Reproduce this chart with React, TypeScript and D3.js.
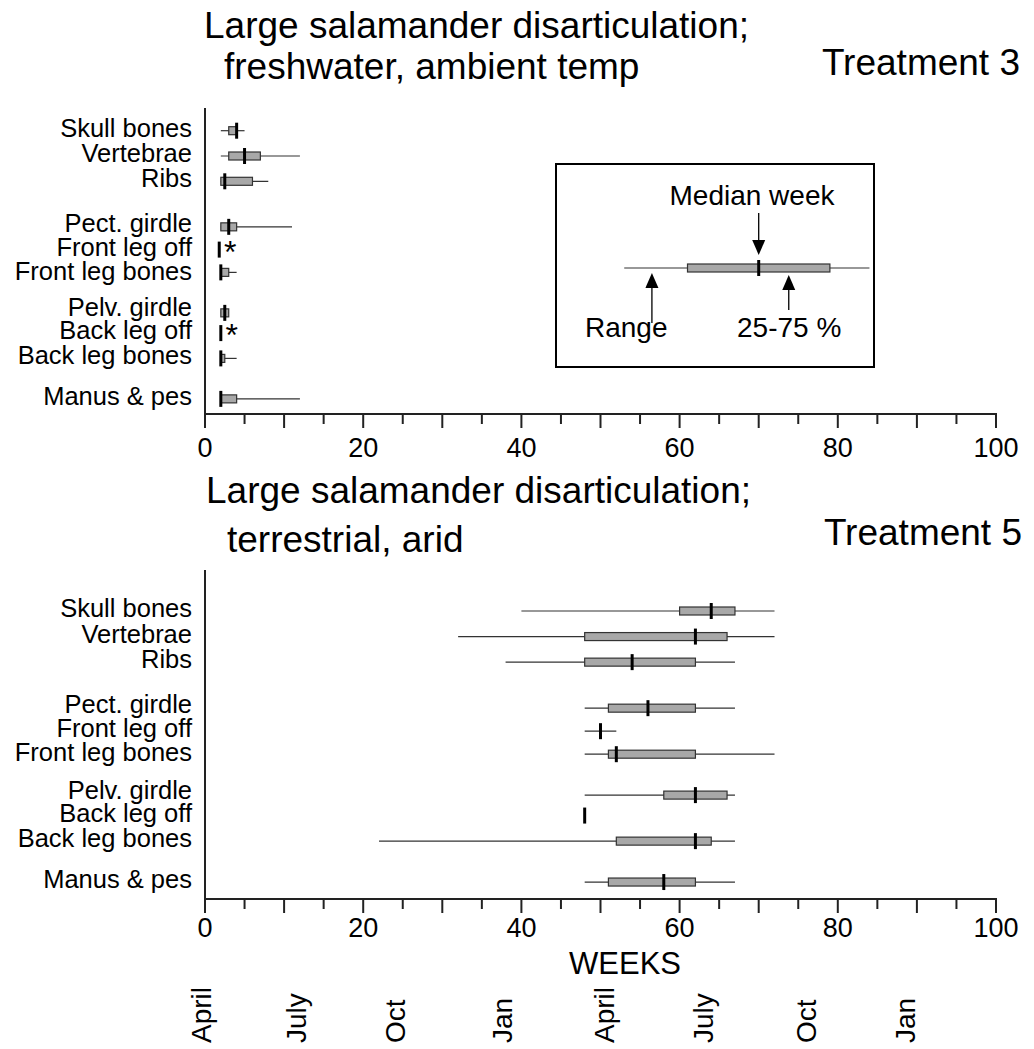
import React from "react";
import * as d3 from "d3";

// Row labels and their vertical slot positions (groups separated by gaps)
const categories = [
  "Skull bones",
  "Vertebrae",
  "Ribs",
  "Pect. girdle",
  "Front leg off",
  "Front leg bones",
  "Pelv. girdle",
  "Back leg off",
  "Back leg bones",
  "Manus & pes",
];
const rowSlots = [0, 1, 2, 3.8, 4.7, 5.6, 7.2, 8, 9, 10.6];
const labelSlots = [0, 1, 2, 3.75, 4.7, 5.65, 7.1, 8, 9, 10.6];

// Treatment 3: freshwater, ambient temperature (weeks)
const t3Min = [2, 2, 2, 2, null, 2, 2, null, 2, 2];
const t3Q1 = [3, 3, 2, 2, null, 2, 2, null, 2, 2];
const t3Median = [4, 5, 2.5, 3, 1.8, 2, 2.5, 2, 2, 2];
const t3Q3 = [4, 7, 6, 4, null, 3, 3, null, 2.5, 4];
const t3Max = [5, 12, 8, 11, null, 4, 3, null, 4, 12];
const t3Starred = [false, false, false, false, true, false, false, true, false, false];

// Treatment 5: terrestrial, arid (weeks)
const t5Min = [40, 32, 38, 48, 48, 48, 48, null, 22, 48];
const t5Q1 = [60, 48, 48, 51, null, 51, 58, null, 52, 51];
const t5Median = [64, 62, 54, 56, 50, 52, 62, 48, 62, 58];
const t5Q3 = [67, 66, 62, 62, null, 62, 66, null, 64, 62];
const t5Max = [72, 72, 67, 67, 52, 72, 67, null, 67, 67];
const t5Starred = [false, false, false, false, false, false, false, false, false, false];

// Week axis
const weekDomain = [0, 100];
const tickLabels = [0, 20, 40, 60, 80, 100];

// Calendar months below the week axis (position in weeks)
const monthNames = ["April", "July", "Oct", "Jan", "April", "July", "Oct", "Jan"];
const monthWeeks = [-0.5, 11.5, 24, 37.5, 50.5, 63, 76, 88.5];

// Legend key (schematic values in weeks)
const legendRange = [53, 84];
const legendBox = [61, 79];
const legendMedian = 70;

const FONT = "'Liberation Sans', Arial, Helvetica, sans-serif";
const BOX_FILL = "#a8a8a8";
const DARK = "#222";

type PanelProps = {
  top: number; // y of first row
  unit: number; // px per slot
  axisTop: number;
  axisY: number;
  labelGap: number;
  mins: (number | null)[];
  q1s: (number | null)[];
  medians: number[];
  q3s: (number | null)[];
  maxs: (number | null)[];
  starred: boolean[];
};

const x = d3.scaleLinear().domain(weekDomain).range([205, 996]);

function Panel(p: PanelProps) {
  const y = d3
    .scaleLinear()
    .domain([0, 10.6])
    .range([p.top, p.top + 10.6 * p.unit]);
  const ticks = x.ticks(20);
  return (
    <g>
      {/* category labels */}
      {categories.map((c, i) => (
        <text
          key={c}
          x={192}
          y={y(labelSlots[i]) - 3}
          textAnchor="end"
          dominantBaseline="central"
          fontSize={25.5}
          fontFamily={FONT}
        >
          {c}
        </text>
      ))}
      {/* boxes */}
      {categories.map((c, i) => {
        const cy = y(rowSlots[i]);
        const mn = p.mins[i];
        const mx = p.maxs[i];
        const a = p.q1s[i];
        const b = p.q3s[i];
        return (
          <g key={c}>
            {mn != null && mx != null && (
              <line x1={x(mn)} x2={x(mx)} y1={cy} y2={cy} stroke="#333" strokeWidth={1.2} />
            )}
            {a != null && b != null && (
              <rect
                x={x(a)}
                y={cy - 4}
                width={Math.max(x(b) - x(a), 0)}
                height={8}
                fill={BOX_FILL}
                stroke="#333"
                strokeWidth={1.2}
              />
            )}
            <line
              x1={x(p.medians[i])}
              x2={x(p.medians[i])}
              y1={cy - 8}
              y2={cy + 8}
              stroke="#000"
              strokeWidth={3}
            />
            {p.starred[i] && (
              <text x={x(p.medians[i]) + 11} y={cy + 13} textAnchor="middle" fontSize={32} fontFamily={FONT}>
                *
              </text>
            )}
          </g>
        );
      })}
      {/* axes */}
      <line x1={x(0)} x2={x(0)} y1={p.axisTop} y2={p.axisY} stroke={DARK} strokeWidth={2} />
      <line x1={x(0) - 1} x2={x(100) + 1} y1={p.axisY} y2={p.axisY} stroke={DARK} strokeWidth={2} />
      {ticks.map((t) => (
        <line
          key={t}
          x1={x(t)}
          x2={x(t)}
          y1={p.axisY}
          y2={p.axisY + (t % 10 === 0 ? 14 : 10)}
          stroke={DARK}
          strokeWidth={2}
        />
      ))}
      {tickLabels.map((t) => (
        <text
          key={t}
          x={x(t)}
          y={p.axisY + p.labelGap}
          textAnchor="middle"
          fontSize={27}
          fontFamily={FONT}
        >
          {t}
        </text>
      ))}
    </g>
  );
}

function Arrow({ xPos, tipY, tailY }: { xPos: number; tipY: number; tailY: number }) {
  const dir = tailY > tipY ? 1 : -1; // 1: pointing up
  const headLen = 15;
  const headHalf = 6.5;
  const baseY = tipY + dir * headLen;
  return (
    <g>
      <line x1={xPos} x2={xPos} y1={baseY} y2={tailY} stroke="#000" strokeWidth={1.3} />
      <path
        d={`M${xPos},${tipY} L${xPos - headHalf},${baseY} L${xPos + headHalf},${baseY} Z`}
        fill="#000"
      />
    </g>
  );
}

function Legend() {
  const cy = 268;
  return (
    <g>
      <rect x={556} y={164} width={318} height={203} fill="none" stroke="#000" strokeWidth={2} />
      <text x={752} y={205} textAnchor="middle" fontSize={28} fontFamily={FONT}>
        Median week
      </text>
      <Arrow xPos={x(legendMedian)} tipY={255} tailY={213} />
      <line x1={x(legendRange[0])} x2={x(legendRange[1])} y1={cy} y2={cy} stroke="#333" strokeWidth={1.2} />
      <rect
        x={x(legendBox[0])}
        y={cy - 4}
        width={x(legendBox[1]) - x(legendBox[0])}
        height={8}
        fill={BOX_FILL}
        stroke="#333"
        strokeWidth={1.2}
      />
      <line x1={x(legendMedian)} x2={x(legendMedian)} y1={cy - 8} y2={cy + 8} stroke="#000" strokeWidth={3} />
      <Arrow xPos={x(56.5)} tipY={273} tailY={323} />
      <Arrow xPos={x(73.8)} tipY={275} tailY={310} />
      <text x={585} y={337} fontSize={28} fontFamily={FONT}>
        Range
      </text>
      <text x={737} y={337} fontSize={28} fontFamily={FONT}>
        25-75 %
      </text>
    </g>
  );
}

export default function App() {
  return (
    <svg
      width={1034}
      height={1049}
      style={{ position: "absolute", left: 0, top: 0, background: "#fff" }}
    >
      <rect width={1034} height={1049} fill="#fff" />
      {/* titles */}
      <text x={204} y={38} fontSize={37} fontFamily={FONT}>
        Large salamander disarticulation;
      </text>
      <text x={224} y={79} fontSize={37} fontFamily={FONT}>
        freshwater, ambient temp
      </text>
      <text x={1020} y={75} textAnchor="end" fontSize={37} fontFamily={FONT}>
        Treatment 3
      </text>
      <text x={206} y={503} fontSize={37} fontFamily={FONT}>
        Large salamander disarticulation;
      </text>
      <text x={227} y={552} fontSize={37} fontFamily={FONT}>
        terrestrial, arid
      </text>
      <text x={1022} y={545} textAnchor="end" fontSize={37} fontFamily={FONT}>
        Treatment 5
      </text>

      <Panel
        top={130.7}
        unit={25.3}
        axisTop={108}
        axisY={414}
        labelGap={43}
        mins={t3Min}
        q1s={t3Q1}
        medians={t3Median}
        q3s={t3Q3}
        maxs={t3Max}
        starred={t3Starred}
      />
      <Legend />
      <Panel
        top={611}
        unit={25.57}
        axisTop={570}
        axisY={899}
        labelGap={38}
        mins={t5Min}
        q1s={t5Q1}
        medians={t5Median}
        q3s={t5Q3}
        maxs={t5Max}
        starred={t5Starred}
      />

      <text x={625} y={974} textAnchor="middle" fontSize={31} fontFamily={FONT}>
        WEEKS
      </text>
      {monthNames.map((m, i) => (
        <text
          key={i}
          transform={`translate(${x(monthWeeks[i]) + 10},1043) rotate(-90)`}
          fontSize={28}
          fontFamily={FONT}
        >
          {m}
        </text>
      ))}
    </svg>
  );
}
